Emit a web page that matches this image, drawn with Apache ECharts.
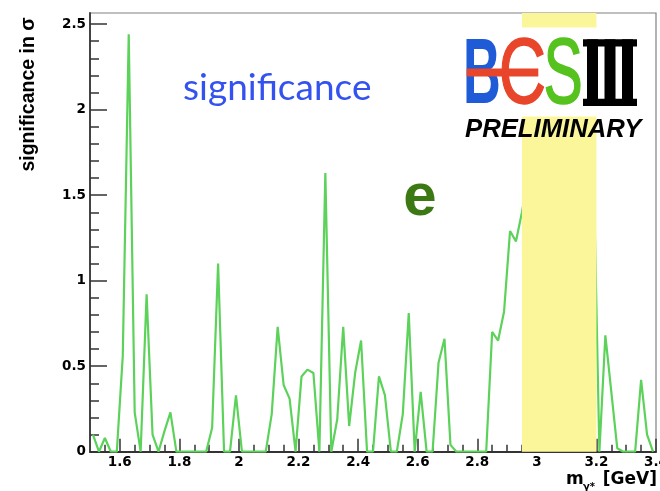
<!DOCTYPE html>
<html>
<head>
<meta charset="utf-8">
<script src="https://cdn.jsdelivr.net/npm/echarts@6/dist/echarts.min.js"></script>
<style>
  html, body { margin: 0; padding: 0; background: #ffffff; }
  #chart { width: 660px; height: 491px; }
</style>
</head>
<body>
<div id="chart"></div>
<script>
// Bin centres of the invariant-mass scan, in GeV
const massGeV = [
  1.51, 1.53, 1.55, 1.57, 1.59, 1.61, 1.63, 1.65, 1.67, 1.69,
  1.71, 1.73, 1.75, 1.77, 1.79, 1.81, 1.83, 1.85, 1.87, 1.89,
  1.91, 1.93, 1.95, 1.97, 1.99, 2.01, 2.03, 2.05, 2.07, 2.09,
  2.11, 2.13, 2.15, 2.17, 2.19, 2.21, 2.23, 2.25, 2.27, 2.29,
  2.31, 2.33, 2.35, 2.37, 2.39, 2.41, 2.43, 2.45, 2.47, 2.49,
  2.51, 2.53, 2.55, 2.57, 2.59, 2.61, 2.63, 2.65, 2.67, 2.69,
  2.71, 2.73, 2.75, 2.77, 2.79, 2.81, 2.83, 2.85, 2.87, 2.89,
  2.91, 2.93, 2.95, 2.97, 2.99, 3.01, 3.03, 3.05, 3.07, 3.09,
  3.11, 3.13, 3.15, 3.17, 3.19, 3.21, 3.23, 3.25, 3.27, 3.29,
  3.31, 3.33, 3.35, 3.37, 3.39
];

// Local significance (in sigma) for each mass bin
const significance = [
  0.10, 0.00, 0.08, 0.00, 0.00, 0.56, 2.44, 0.23, 0.00, 0.92,
  0.10, 0.00, 0.12, 0.23, 0.00, 0.00, 0.00, 0.00, 0.00, 0.00,
  0.14, 1.10, 0.00, 0.00, 0.33, 0.00, 0.00, 0.00, 0.00, 0.00,
  0.22, 0.73, 0.39, 0.31, 0.00, 0.44, 0.48, 0.46, 0.00, 1.63,
  0.00, 0.19, 0.73, 0.15, 0.46, 0.65, 0.00, 0.00, 0.44, 0.33,
  0.00, 0.00, 0.22, 0.81, 0.00, 0.35, 0.00, 0.00, 0.52, 0.66,
  0.04, 0.00, 0.00, 0.00, 0.00, 0.00, 0.00, 0.70, 0.65, 0.82,
  1.29, 1.23, 1.40, 1.60, 1.75, 1.90, 2.05, 2.10, 2.00, 1.85,
  1.80, 1.70, 1.75, 1.80, 1.70, 0.00, 0.68, 0.35, 0.02, 0.00,
  0.00, 0.00, 0.42, 0.10, 0.00
];

// J/psi veto window, in GeV
const vetoWindow = [2.95, 3.20];

// Axis ticks
const xMajorTicks = [1.6, 1.8, 2.0, 2.2, 2.4, 2.6, 2.8, 3.0, 3.2, 3.4];
const xMinorTicks = [1.55, 1.65, 1.70, 1.75, 1.85, 1.90, 1.95, 2.05, 2.10, 2.15,
                     2.25, 2.30, 2.35, 2.45, 2.50, 2.55, 2.65, 2.70, 2.75, 2.85,
                     2.90, 2.95, 3.05, 3.10, 3.15, 3.25, 3.30, 3.35];
const yMajorTicks = [0, 0.5, 1.0, 1.5, 2.0, 2.5];
const yMinorTicks = [0.1, 0.2, 0.3, 0.4, 0.6, 0.7, 0.8, 0.9, 1.1, 1.2, 1.3, 1.4,
                     1.6, 1.7, 1.8, 1.9, 2.1, 2.2, 2.3, 2.4];

const X_MIN = 1.5, X_MAX = 3.4, Y_MIN = 0, Y_MAX = 2.565;

const AXIS_DARK = '#333333';
const labelFont = {
  color: '#000000',
  fontFamily: '"DejaVu Sans", sans-serif',
  fontWeight: 'bold',
  fontSize: 13.5
};
const fmt = v => String(Number(v.toFixed(1)));

// overlay elements (titles, annotations, logo) sit above the plotted band
const TOP_Z = 100;
const LOGO_FONT = '93.5px "Liberation Sans", Arial, sans-serif';

const chart = echarts.init(document.getElementById('chart'), null, { renderer: 'canvas' });

chart.setOption({
  animation: false,
  backgroundColor: '#ffffff',
  grid: {
    left: 90, top: 13, width: 566, height: 438.7,
    show: true, borderColor: '#808080', borderWidth: 1.2,
    containLabel: false, outerBoundsMode: 'none'
  },
  xAxis: [
    {
      type: 'value', min: X_MIN, max: X_MAX, position: 'bottom',
      axisLine: { show: true, onZero: false, lineStyle: { color: AXIS_DARK, width: 2 } },
      axisTick: { show: true, inside: true, length: 13, customValues: xMajorTicks,
                  lineStyle: { color: AXIS_DARK, width: 1.5 } },
      axisLabel: Object.assign({ customValues: xMajorTicks, margin: 4, formatter: fmt }, labelFont),
      splitLine: { show: false }
    },
    {
      type: 'value', min: X_MIN, max: X_MAX, position: 'bottom',
      axisLine: { show: false, onZero: false },
      axisTick: { show: true, inside: true, length: 7, customValues: xMinorTicks,
                  lineStyle: { color: AXIS_DARK, width: 1.5 } },
      axisLabel: { show: false },
      splitLine: { show: false }
    }
  ],
  yAxis: [
    {
      type: 'value', min: Y_MIN, max: Y_MAX, position: 'left',
      axisLine: { show: true, onZero: false, lineStyle: { color: '#444444', width: 2 } },
      axisTick: { show: true, inside: true, length: 17, customValues: yMajorTicks,
                  lineStyle: { color: AXIS_DARK, width: 1.5 } },
      axisLabel: Object.assign({ customValues: yMajorTicks, margin: 4, formatter: fmt }, labelFont),
      splitLine: { show: false }
    },
    {
      type: 'value', min: Y_MIN, max: Y_MAX, position: 'left',
      axisLine: { show: false, onZero: false },
      axisTick: { show: true, inside: true, length: 9, customValues: yMinorTicks,
                  lineStyle: { color: AXIS_DARK, width: 1.5 } },
      axisLabel: { show: false },
      splitLine: { show: false }
    }
  ],
  series: [
    {
      name: 'significance',
      type: 'line',
      xAxisIndex: 0, yAxisIndex: 0,
      data: massGeV.map((m, i) => [m, significance[i]]),
      symbol: 'none',
      showSymbol: false,
      lineStyle: { color: '#5cd25a', width: 2.2 },
      z: 2,
      silent: true
    },
    {
      name: 'veto',
      type: 'custom',
      xAxisIndex: 0, yAxisIndex: 0,
      data: [vetoWindow],
      dimensions: ['start', 'end'],
      encode: { x: [0, 1] },
      renderItem: (params, api) => {
        const p0 = api.coord([api.value(0), Y_MAX]);
        const p1 = api.coord([api.value(1), Y_MIN]);
        return {
          type: 'rect',
          shape: { x: p0[0], y: p0[1], width: p1[0] - p0[0], height: p1[1] - p0[1] },
          style: { fill: '#fcf69a' }
        };
      },
      z: 3,
      silent: true
    }
  ],
  graphic: [
    // y-axis title
    { type: 'text', z: TOP_Z, x: 28.5, y: 94.5, rotation: Math.PI / 2,
      style: { text: 'significance in σ', font: 'bold 19.5px "Liberation Sans", Arial, sans-serif',
               fill: '#000000', align: 'center', verticalAlign: 'middle' } },
    // x-axis title
    { type: 'text', z: TOP_Z, x: 566, y: 480,
      style: { text: 'm', font: 'bold 17px "DejaVu Sans", sans-serif',
               fill: '#000000', align: 'left', verticalAlign: 'middle' } },
    { type: 'text', z: TOP_Z, x: 583, y: 487,
      style: { text: 'γ*', font: 'bold 10px "DejaVu Sans", sans-serif',
               fill: '#000000', align: 'left', verticalAlign: 'middle' } },
    { type: 'text', z: TOP_Z, x: 657, y: 480,
      style: { text: '[GeV]', font: 'bold 17px "DejaVu Sans", sans-serif',
               fill: '#000000', align: 'right', verticalAlign: 'middle' } },
    // annotations
    { type: 'text', z: TOP_Z, x: 183, y: 88,
      style: { text: 'significance', font: '37px Lato, "Open Sans", sans-serif',
               fill: '#3452f0', align: 'left', verticalAlign: 'middle' } },
    { type: 'text', z: TOP_Z, x: 420, y: 198,
      style: { text: 'e', font: 'bold 60px "Liberation Sans", Arial, sans-serif',
               fill: '#3c7814', align: 'center', verticalAlign: 'middle' } },
    // experiment logo on its white card
    { type: 'rect', z: TOP_Z, shape: { x: 460, y: 27.5, width: 185, height: 89 }, style: { fill: '#ffffff' } },
    { type: 'text', z: TOP_Z, x: 463, y: 77, scaleX: 0.56,
      style: { text: 'B', font: 'bold ' + LOGO_FONT,
               fill: '#1f5bd6', align: 'left', verticalAlign: 'middle' } },
    { type: 'text', z: TOP_Z, x: 498.7, y: 77, scaleX: 0.7,
      style: { text: 'C', font: LOGO_FONT, fill: '#e8452a', stroke: '#e8452a', lineWidth: 1.5,
               align: 'left', verticalAlign: 'middle' } },
    { type: 'rect', z: TOP_Z, shape: { x: 466.7, y: 68.5, width: 71.6, height: 8 }, style: { fill: '#e8452a' } },
    { type: 'text', z: TOP_Z, x: 543.4, y: 77, scaleX: 0.63,
      style: { text: 'S', font: LOGO_FONT, fill: '#55c21e', stroke: '#55c21e', lineWidth: 1.5,
               align: 'left', verticalAlign: 'middle' } },
    { type: 'rect', z: TOP_Z, shape: { x: 583, y: 39.3, width: 54, height: 7.2 }, style: { fill: '#000000' } },
    { type: 'rect', z: TOP_Z, shape: { x: 583, y: 98.8, width: 54, height: 7.2 }, style: { fill: '#000000' } },
    { type: 'rect', z: TOP_Z, shape: { x: 587, y: 39.3, width: 11, height: 66.7 }, style: { fill: '#000000' } },
    { type: 'rect', z: TOP_Z, shape: { x: 604.5, y: 39.3, width: 11, height: 66.7 }, style: { fill: '#000000' } },
    { type: 'rect', z: TOP_Z, shape: { x: 622, y: 39.3, width: 11, height: 66.7 }, style: { fill: '#000000' } },
    { type: 'text', z: TOP_Z, x: 465, y: 130,
      style: { text: 'PRELIMINARY', font: 'italic bold 25.7px "Liberation Sans", Arial, sans-serif',
               fill: '#000000', align: 'left', verticalAlign: 'middle' } }
  ]
});
</script>
</body>
</html>
